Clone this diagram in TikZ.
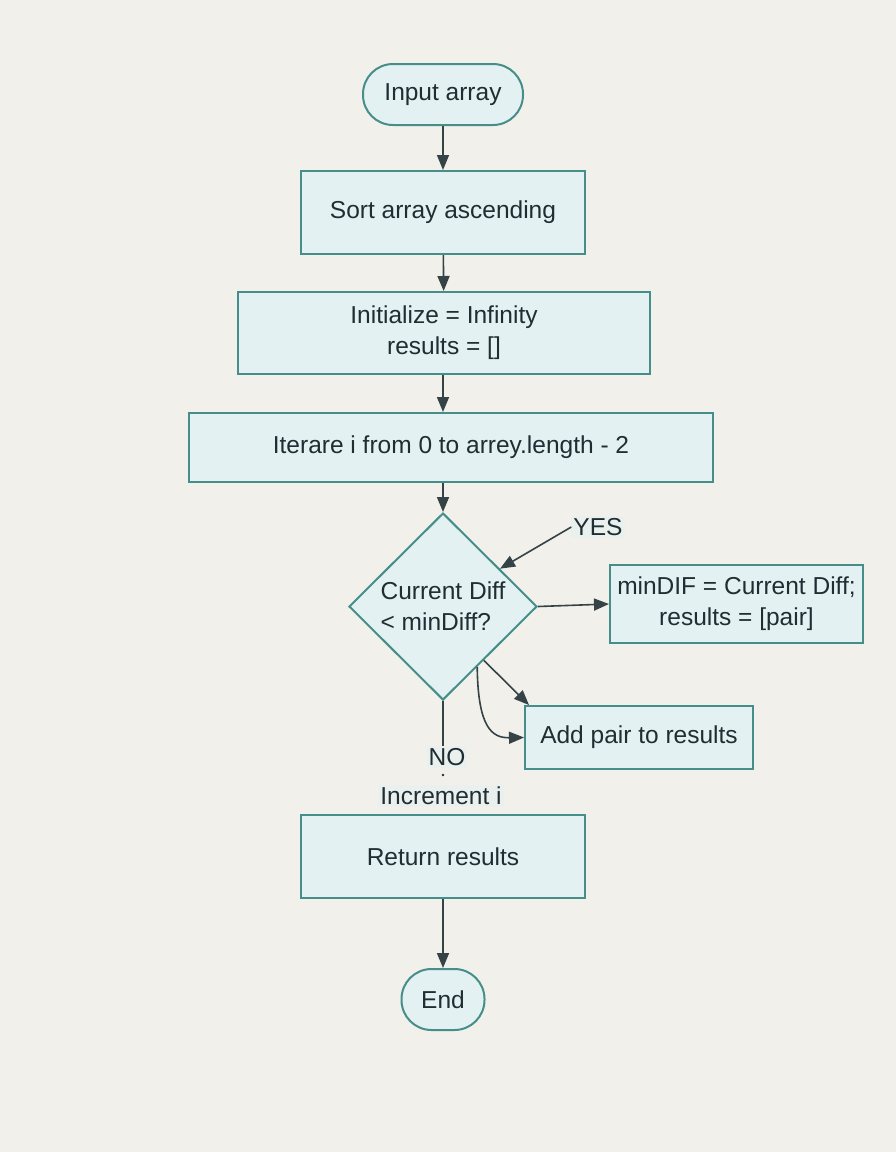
\documentclass[tikz,border=0pt]{standalone}
\usepackage{fontspec}
\setmainfont{Liberation Sans}
\usetikzlibrary{shapes.geometric,arrows.meta,calc}
\definecolor{bg}{HTML}{F1F0EB}
\definecolor{boxfill}{HTML}{E4F1F2}
\definecolor{boxline}{HTML}{458E89}
\definecolor{txt}{HTML}{1F2E33}
\definecolor{lbl}{HTML}{EAF0EE}
\tikzset{
  base/.style={draw=boxline, line width=2pt, fill=boxfill, text=txt, inner sep=0pt, font=\fontsize{24.5}{31}\selectfont, align=center},
  procbox/.style={base, rectangle},
  termbox/.style={base, rectangle, rounded corners=30pt},
  decbox/.style={base, diamond, align=left},
  lab/.style={text=txt, fill=lbl, inner sep=2pt, font=\fontsize{24.5}{28}\selectfont},
  arr/.style={draw=txt!90, line width=1.6pt, -{Triangle[length=15pt,width=12pt]}},
  ln/.style={draw=txt!90, line width=1.6pt}
}
\begin{document}
\begin{tikzpicture}[x=1pt,y=-1pt]
\fill[bg] (0,0) rectangle (896,1152);
\useasboundingbox (0,0) rectangle (896,1152);
\node[termbox, minimum width=160pt, minimum height=61pt] (in) at (443,94.5) {Input array};
\node[procbox, minimum width=284pt, minimum height=83pt] (sort) at (443,212.5) {Sort array ascending};
\node[procbox, minimum width=412pt, minimum height=82pt] (init) at (444,333) {Initialize = Infinity\\results = []};
\node[procbox, minimum width=524pt, minimum height=69pt] (iter) at (451,447.5) {Iterare i from 0 to arrey.length - 2};
\node[decbox, minimum width=188pt, minimum height=187pt] (d) at (443,606.5) {Current Diff\\< minDiff?};
\node[procbox, minimum width=253pt, minimum height=78pt] (upd) at (736.5,604) {minDIF = Current Diff;\\results = [pair]};
\node[procbox, minimum width=228pt, minimum height=63pt] (add) at (639,737.5) {Add pair to results};
\node[procbox, minimum width=284pt, minimum height=83pt] (ret) at (443,856.5) {Return results};
\node[termbox, minimum width=83pt, minimum height=61pt] (end) at (443,999.5) {End};
\node[lab] (yes) at (598,527) {YES};
\node[lab] (no) at (447,757) {NO};
\node[lab] (inc) at (441,796) {Increment i};

\draw[arr] (in) -- (sort);
\draw[arr] (sort) -- (init);
\draw[arr] (init.south -| in) -- (iter.north -| in);
\draw[arr] (iter.south -| in) -- (d.north);
\draw[arr] (yes.west) -- ($(d.north)!0.6!(d.east)$);
\draw[arr] (d.east) -- (upd.west);
\draw[arr] ($(d.east)!0.57!(d.south)$) -- ($(add.north west)+(5,0)$);
\draw[arr] ($(d.east)!0.64!(d.south)$) .. controls (478,728) and (492,738) .. (add.west);
\draw[ln] (d.south) -- (no.north -| d.south);
\fill[txt] (443,775) circle (1.3pt);
\draw[arr] (ret) -- (end);
\end{tikzpicture}
\end{document}
